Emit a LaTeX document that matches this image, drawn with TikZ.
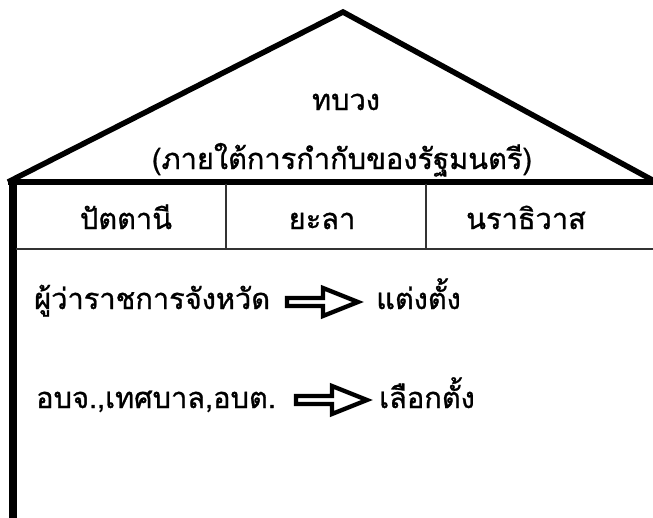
\documentclass[tikz,border=0pt]{standalone}
\usepackage{fontspec}
\newfontfamily\thaifont[Script=Thai,FakeBold=1]{Loma}
\begin{document}
\begin{tikzpicture}[x=1pt,y=-1pt,
  txt/.style={font=\thaifont\fontsize{29}{34}\selectfont, inner sep=0pt, anchor=base},
  thick line/.style={line width=5.5pt, line join=miter, line cap=butt},
  thin line/.style={line width=1.3pt, black!80},
  blockarrow/.style={draw=black, line width=4.3pt, fill=white, line join=miter}
]
\useasboundingbox (0,0) rectangle (653,517);
% roof
\coordinate (lc) at (8,182);
\coordinate (apex) at (343,12);
\coordinate (rc) at (656,182);
\draw[thick line] (lc) -- (apex) -- (rc);
\draw[line width=6pt] (lc) -- (rc);
% left wall
\coordinate (wt) at (12.5,180);
\coordinate (wb) at (12.5,520);
\draw[line width=8pt] (wt) -- (wb);
% table
\coordinate (hl) at (16,249);
\coordinate (hr) at (653,249);
\draw[thin line] (hl) -- (hr);
\coordinate (d1t) at (226,184);
\coordinate (d1b) at (226,249);
\coordinate (d2t) at (426,184);
\coordinate (d2b) at (426,249);
\draw[thin line] (d1t) -- (d1b);
\draw[thin line] (d2t) -- (d2b);
% roof texts
\node[txt] (t1) at (346,110) {ทบวง};
\node[txt] (t2) at (342,169) {(ภายใต้การกำกับของรัฐมนตรี)};
% header
\node[txt] (h1) at (126,229) {ปัตตานี};
\node[txt] (h2) at (322,229) {ยะลา};
\node[txt] (h3) at (526,229) {นราธิวาส};
% rows
\node[txt, anchor=base west] (r1) at (34,309) {ผู้ว่าราชการจังหวัด};
\node[txt, anchor=base west] (r1b) at (376,309) {แต่งตั้ง};
\node[txt, anchor=base west] (r2) at (36,408) {อบจ.,เทศบาล,อบต.};
\node[txt, anchor=base west] (r2b) at (379,408) {เลือกตั้ง};
% block arrows
\coordinate (a1) at (287,302);
\draw[blockarrow] (a1) ++(0,-4) -- ++(36,0) -- ++(0,-10) -- ++(35,14) -- ++(-35,14) -- ++(0,-10) -- ++(-36,0) -- cycle;
\coordinate (a2) at (296,400);
\draw[blockarrow] (a2) ++(0,-4) -- ++(36,0) -- ++(0,-10) -- ++(35,14) -- ++(-35,14) -- ++(0,-10) -- ++(-36,0) -- cycle;
\end{tikzpicture}
\end{document}
